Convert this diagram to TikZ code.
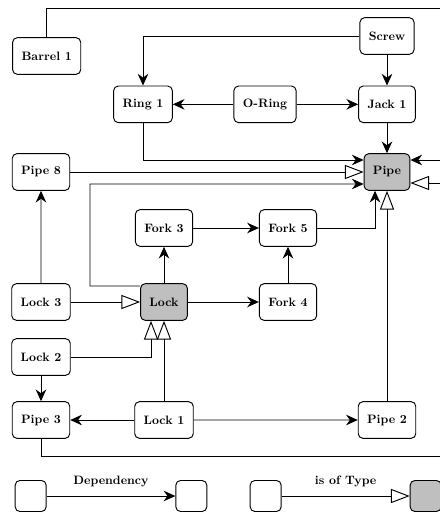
\documentclass[tikz,border=0pt]{standalone}
\usepackage{tikz}
\usetikzlibrary{arrows.meta,positioning}
\tikzstyle{part} = [rectangle, rounded corners=4pt, minimum height=1.1cm, inner xsep=7.6pt, text centered, draw=black, thick, fill=white]
\tikzstyle{parttype} = [part, fill=gray!50]
\tikzstyle{key} = [part, minimum width=0.93cm, minimum height=0.93cm]
\tikzstyle{keytype} = [key, fill=gray!50]
\tikzstyle{arrow} = [thick,-{Stealth[length=10pt,width=9pt]}]
\tikzstyle{typearrow} = [thick,-{Triangle[length=16pt,width=12pt,fill=white]}]

\begin{document}
\begin{tikzpicture}[node distance=3.66cm, font=\fontsize{10.4}{12}\bfseries]
\path[use as bounding box, clip] (0,0) rectangle (13.2,-15.48);
%
\node (pipe) [parttype] at (11.61,-5.16) {Pipe};
\node (jack) [part, node distance=2.03cm, above of=pipe] {Jack 1};
\node (screw) [part, node distance=2.05cm, above of=jack] {Screw};
\node (oring) [part, left of=jack] {O-Ring};
\node (ring) [part, left of=oring] {Ring 1};
\node (barrel) [part] at (1.4,-1.68) {Barrel 1};
\node (pipe8) [part, node distance=10.38cm, left of=pipe] {Pipe 8};
\node (fork3) [part] at (4.92,-6.84) {Fork 3};
\node (fork5) [part, node distance=3.72cm, right of=fork3] {Fork 5};
\node (lock) [parttype, node distance=2.22cm, below of=fork3] {Lock};
\node (fork4) [part, node distance=2.22cm, below of=fork5] {Fork 4};
\node (lock3) [part, node distance=3.69cm, left of=lock] {Lock 3};
\node (lock2) [part, node distance=1.65cm, below of=lock3] {Lock 2};
\node (pipe3) [part, node distance=1.89cm, below of=lock2] {Pipe 3};
\node (lock1) [part, node distance=3.69cm, right of=pipe3] {Lock 1};
\node (pipe2) [part, node distance=7.44cm, below of=pipe] {Pipe 2};
%
% bends of the long lines
\coordinate (topright) at (13.6,-0.24);
\coordinate (botright) at (13.9,-13.68);
\coordinate (lockbend) at (2.7,-5.52);
%
\draw [arrow] (barrel.north) |- (topright) |- ([yshift=0.36cm]pipe.east);
\draw [typearrow] (pipe3.south) |- (botright) |- ([yshift=-0.33cm]pipe.east);
\draw [arrow] (screw.west) -| (ring.north);
\draw [arrow] (screw) -- (jack);
\draw [arrow] (oring) -- (ring);
\draw [arrow] (oring) -- (jack);
\draw [arrow] (jack) -- (pipe);
\draw [arrow] (ring.south) |- ([yshift=0.36cm]pipe.west);
\draw [typearrow] (pipe8) -- (pipe);
\draw [arrow] ([yshift=0.48cm]lock.west) -| (lockbend) -- ([yshift=-0.36cm]pipe.west);
\draw [arrow] (lock) -- (fork3);
\draw [arrow] (fork3) -- (fork5);
\draw [arrow] (fork5.east) -| ([xshift=-0.36cm]pipe.south);
\draw [arrow] (fork4) -- (fork5);
\draw [arrow] (lock) -- (fork4);
\draw [typearrow] (lock3) -- (lock);
\draw [arrow] (lock3) -- (pipe8);
\draw [typearrow] (lock2.east) -| ([xshift=-0.39cm]lock.south);
\draw [typearrow] (lock1) -- (lock);
\draw [arrow] (lock2) -- (pipe3);
\draw [arrow] (lock1) -- (pipe3);
\draw [arrow] (lock1) -- (pipe2);
\draw [typearrow] (pipe2) -- (pipe);
%
% legend
\node (keyA) [key] at (0.92,-14.88) {};
\node (keyB) [key] at (5.74,-14.88) {};
\node (keyC) [key] at (7.97,-14.88) {};
\node (keyD) [keytype] at (12.77,-14.88) {};
\draw [arrow] (keyA) -- node[above=4pt] {Dependency} (keyB);
\draw [typearrow] (keyC) -- node[above=4pt] {is of Type} (keyD);
%
\end{tikzpicture}
\end{document}
